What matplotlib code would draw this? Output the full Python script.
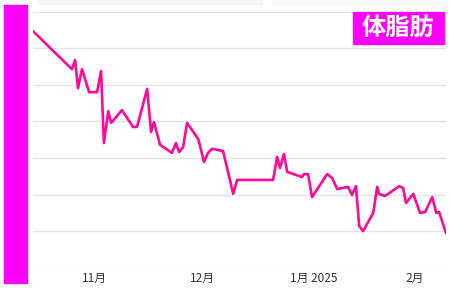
import numpy as np
import matplotlib
matplotlib.use("Agg")
import matplotlib.pyplot as plt
from matplotlib.patches import Rectangle

plt.rcParams['font.family'] = ['Noto Sans CJK JP', 'DejaVu Sans']

# days from Nov 1 (2024), body fat values
days = [-17.1, -6.3, -5.4, -4.6, -3.5, -1.5, 0.7, 1.8, 2.6, 3.8, 4.6, 7.6, 10.7, 11.8,
        14.6, 15.7, 16.5, 18.2, 21.5, 22.6, 23.5, 24.6, 25.7, 28.8, 30.4, 31.5, 32.6,
        35.7, 38.5, 39.6, 49.6, 50.7, 51.5, 52.6, 53.5, 57.6, 58.2, 59.3, 60.4, 64.6,
        66.0, 67.4, 70.4, 71.5, 72.6, 73.5, 74.6, 77.4, 78.5, 79.0, 80.7, 84.6, 85.7,
        86.5, 88.5, 90.4, 91.8, 93.8, 94.9, 95.7, 97.6]
fat = [26.47, 25.43, 25.68, 24.91, 25.43, 24.80, 24.80, 25.38, 23.41, 24.28, 23.96, 24.31,
       23.85, 23.85, 24.89, 23.71, 23.98, 23.36, 23.14, 23.41, 23.16, 23.30, 23.96, 23.52,
       22.89, 23.14, 23.25, 23.19, 22.02, 22.40, 22.40, 23.03, 22.73, 23.11, 22.62, 22.48,
       22.56, 22.56, 21.93, 22.56, 22.45, 22.15, 22.21, 21.99, 22.23, 21.14, 21.00, 21.50,
       22.21, 22.02, 21.96, 22.23, 22.18, 21.77, 22.02, 21.50, 21.52, 21.93, 21.50, 21.52,
       20.95]

tick_days = [0, 30, 61, 89]
tick_labels = ['11月', '12月', '1月 2025', '2月']
grid_vals = [20, 21, 22, 23, 24, 25, 26, 27]
title = '体脂肪'

fig = plt.figure(figsize=(4.5, 2.94), dpi=100)
ax = fig.add_axes([0.0733, 0.0895, 0.9177, 0.8705])

for g in grid_vals:
    ax.axhline(g, color='#e3e3e3', lw=1.0, zorder=1)

ax.plot(days, fat, color='#ff0a96', lw=1.9, zorder=3)

ax.set_xlim(-17.1, 97.6)
ax.set_ylim(20, 27)
ax.set_yticks([])
ax.set_xticks(tick_days)
ax.set_xticklabels(tick_labels, fontsize=8.5, color='#333333')
ax.tick_params(axis='x', length=0, pad=3)
for s in ax.spines.values():
    s.set_visible(False)
ax.patch.set_alpha(0)

# magenta side bar
fig.patches.append(Rectangle((4 / 450, 1 - 283 / 294), 23 / 450, 278 / 294,
                             transform=fig.transFigure, color='#ff00ff', zorder=0))

# faint strips at the top
fig.patches.append(Rectangle((39 / 450, 1 - 4 / 294), 118 / 450, 4 / 294,
                             transform=fig.transFigure, color='#f4f4f4', zorder=0))
fig.patches.append(Rectangle((158 / 450, 1 - 4 / 294), 104 / 450, 4 / 294,
                             transform=fig.transFigure, color='#f4f4f4', zorder=0))
fig.patches.append(Rectangle((272 / 450, 1 - 4 / 294), 175 / 450, 4 / 294,
                             transform=fig.transFigure, color='#fafafa', zorder=0))

# label box
fig.patches.append(Rectangle((353 / 450, 1 - 44.3 / 294), 91 / 450, 32.6 / 294,
                             transform=fig.transFigure, color='#ff00ff', zorder=5))
fig.text(398.5 / 450, 1 - 28 / 294, title, color='white', fontsize=17.5, fontweight='bold',
         ha='center', va='center', zorder=6)

plt.savefig('out.png', dpi=100)
